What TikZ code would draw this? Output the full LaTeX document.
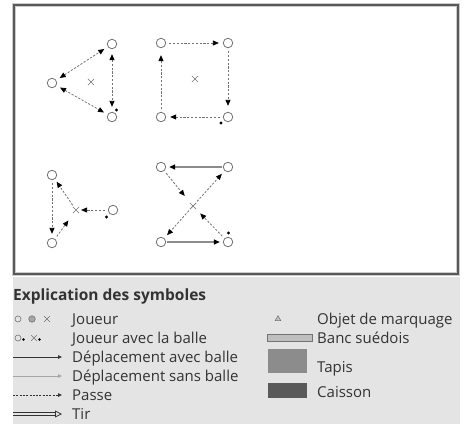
\documentclass[tikz,border=0pt]{standalone}
\usepackage{fontspec}
\setmainfont{Open Sans}
\usetikzlibrary{arrows.meta,shapes.misc,shapes.geometric}
\definecolor{txt}{HTML}{333333}
\definecolor{legbg}{HTML}{E4E4E4}
\begin{document}
\begin{tikzpicture}[x=1pt,y=-1pt,
  player/.style={circle,draw=black!55,line width=0.8pt,minimum size=9.5pt,inner sep=0pt,fill=white},
  ball/.style={circle,fill=black,minimum size=3.2pt,inner sep=0pt},
  xmark/.style={cross out,draw=black!55,line width=0.7pt,minimum size=5.5pt,inner sep=0pt},
  pass/.style={draw=black!55,line width=0.8pt,dash pattern=on 2.2pt off 1.6pt,
    -{Triangle[length=6pt,width=5pt,color=black]},shorten >=4pt,shorten <=3pt},
  pass2/.style={pass,{Triangle[length=6pt,width=5pt,color=black]}-{Triangle[length=6pt,width=5pt,color=black]}},
  run/.style={draw=black!45,line width=1.3pt,-{Triangle[length=6pt,width=5pt,color=black]},shorten >=3pt,shorten <=1pt},
  lbl/.style={anchor=base west,inner sep=0pt,text=txt,font=\fontsize{15}{17}\selectfont},
]
\useasboundingbox (0,0) rectangle (467,432);
\fill[white] (0,0) rectangle (467,432);
% frame
\draw[line width=4pt,black!20] (14,5) rectangle (458,274);
\draw[line width=2.2pt,black!65] (14,5) rectangle (458,274);
% legend background
\fill[legbg] (13,277) rectangle (460,424);

% ---- diagram 1 : triangle
\node[player] (a1) at (112,44) {};
\node[player] (a2) at (52,83) {};
\node[player] (a3) at (112,117) {};
\node[xmark] (ax) at (91,82) {};
\node[ball] (ab) at (116.5,110) {};
\draw[pass2,shorten <=4pt] (a2) -- (a1);
\draw[pass2,shorten <=4pt] (a2) -- (a3);
\draw[pass2,shorten <=5pt,shorten >=5pt] (a1) -- (a3);

% ---- diagram 2 : square
\node[player] (b1) at (161,43) {};
\node[player] (b2) at (228,43) {};
\node[player] (b3) at (228,117) {};
\node[player] (b4) at (161,117) {};
\node[xmark] (bx) at (195,79) {};
\node[ball] (bb) at (221,123) {};
\draw[pass] (b1) -- (b2);
\draw[pass,shorten >=6pt] (b2) -- (b3);
\draw[pass] (b3) -- (b4);
\draw[pass,shorten >=7pt] (b4) -- (b1);

% ---- diagram 3 : Y
\node[player] (c1) at (52,175) {};
\node[player] (c2) at (52,243) {};
\node[player] (c3) at (113,210) {};
\node[xmark] (cx) at (76,210) {};
\node[ball] (cb) at (106.5,217) {};
\draw[pass] (c1) -- (c2);
\draw[pass,shorten >=2pt] (c3) -- (cx);
\draw[pass,shorten <=2pt,shorten >=3pt] (cx) -- (c1);
\draw[pass,shorten >=9pt] (c2) -- (cx);

% ---- diagram 4 : X
\node[player] (d1) at (161,167) {};
\node[player] (d2) at (228,167) {};
\node[player] (d3) at (161,242) {};
\node[player] (d4) at (228,242) {};
\node[xmark] (dx) at (193,206) {};
\node[ball] (db) at (228.5,233) {};
\draw[run] (d2) -- (d1);
\draw[run] (d3) -- (d4);
\draw[pass,shorten >=9pt] (d1) -- (dx);
\draw[pass,shorten <=2pt] (dx) -- (d2);
\draw[pass,shorten <=2pt] (dx) -- (d3);
\draw[pass,shorten >=6pt] (d4) -- (dx);

% ---- legend
\node[lbl,font=\fontsize{15.5}{17}\selectfont\bfseries] (lh) at (13,300) {Explication des symboles};
% row 1
\node[circle,draw=black!55,line width=0.6pt,minimum size=6pt,inner sep=0pt] (l1a) at (18,319) {};
\node[circle,draw=black!55,fill=black!35,line width=0.6pt,minimum size=6.5pt,inner sep=0pt] (l1b) at (32,319) {};
\node[cross out,draw=black!55,line width=0.6pt,minimum size=5pt,inner sep=0pt] (l1c) at (47,319) {};
\node[lbl] (t1) at (72,324) {Joueur};
% row 2
\node[circle,draw=black!55,line width=0.6pt,minimum size=6pt,inner sep=0pt] (l2a) at (18,338) {};
\node[ball,minimum size=2.8pt] (l2b) at (23.5,339.5) {};
\node[cross out,draw=black!55,line width=0.6pt,minimum size=5pt,inner sep=0pt] (l2c) at (34,338) {};
\node[ball,minimum size=2.8pt] (l2d) at (39.5,339.5) {};
\node[lbl] (t2) at (72,343) {Joueur avec la balle};
% row 3
\coordinate (l3a) at (13,357); \coordinate (l3b) at (62,357);
\draw[line width=0.8pt,black!80,-{Triangle[length=4pt,width=3.5pt]}] (l3a) -- (l3b);
\node[lbl] (t3) at (72,362) {Déplacement avec balle};
% row 4
\coordinate (l4a) at (13,376); \coordinate (l4b) at (62,376);
\draw[line width=0.8pt,black!35,-{Triangle[length=4pt,width=3.5pt]}] (l4a) -- (l4b);
\node[lbl] (t4) at (72,381) {Déplacement sans balle};
% row 5
\coordinate (l5a) at (13,395); \coordinate (l5b) at (62,395);
\draw[line width=0.8pt,black!80,dash pattern=on 2pt off 1.3pt,-{Triangle[length=4pt,width=3.5pt]}] (l5a) -- (l5b);
\node[lbl] (t5) at (72,400) {Passe};
% row 6
\coordinate (l6a) at (13,414); \coordinate (l6b) at (62,414);
\draw[double=legbg,double distance=1.6pt,line width=0.8pt,black!80,-{Triangle[open,length=7pt,width=7pt,line width=0.8pt]}] (l6a) -- (l6b);
\node[lbl] (t6) at (72,419) {Tir};
% right column
\node[isosceles triangle,shape border rotate=90,isosceles triangle apex angle=60,draw=black!55,fill=black!25,line width=0.5pt,minimum size=5pt,inner sep=0pt] (r1) at (278,319) {};
\node[lbl] (u1) at (317,324) {Objet de marquage};
\node[rectangle,draw=black!55,fill=black!25,line width=0.6pt,minimum width=45pt,minimum height=6.5pt,inner sep=0pt] (r2) at (289.5,338) {};
\node[lbl] (u2) at (317,343) {Banc suédois};
\node[rectangle,draw=black!45,fill=black!45,minimum width=38pt,minimum height=23pt,inner sep=0pt] (r3) at (287,360.5) {};
\node[lbl] (u3) at (317,372) {Tapis};
\node[rectangle,draw=black!65,fill=black!65,minimum width=38pt,minimum height=14pt,inner sep=0pt] (r4) at (287,390) {};
\node[lbl] (u4) at (317,397) {Caisson};
\end{tikzpicture}
\end{document}
